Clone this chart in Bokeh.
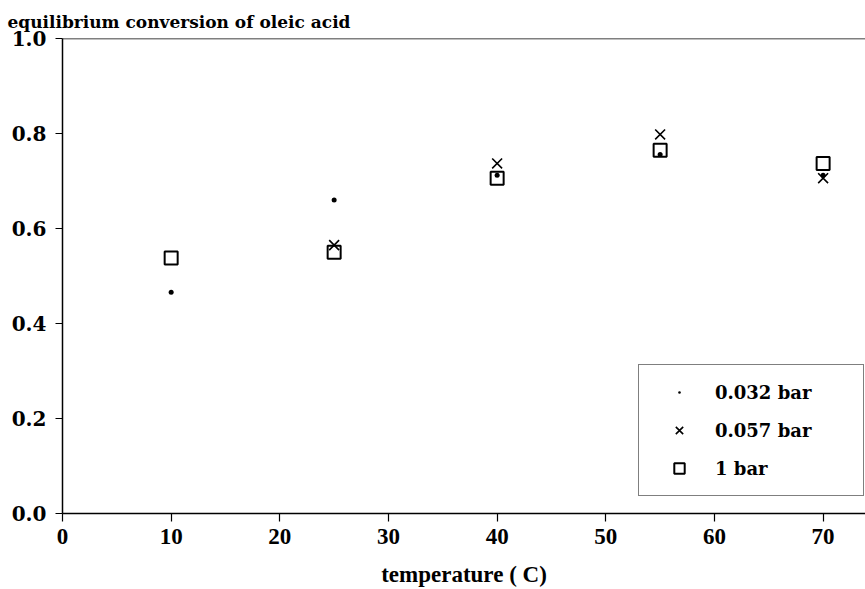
from bokeh.plotting import figure
from bokeh.models import Range1d, Span, Title, Legend, LegendItem, FixedTicker, CustomJSTickFormatter
from bokeh.embed import file_html
from bokeh.resources import INLINE

# data
temps = [10, 25, 40, 55, 70]
conv_0032 = [0.466, 0.660, 0.712, 0.756, 0.712]
temps_0057 = [25, 40, 55, 70]
conv_0057 = [0.565, 0.737, 0.798, 0.706]
conv_1 = [0.538, 0.550, 0.706, 0.765, 0.737]
x_ticks = [0, 10, 20, 30, 40, 50, 60, 70]
y_ticks = [0.0, 0.2, 0.4, 0.6, 0.8, 1.0]
title_text = "equilibrium conversion of oleic acid"
x_label = "temperature ( C)"
labels = ["0.032 bar", "0.057 bar", "1 bar"]

SERIF = "DejaVu Serif"
TIMES = "Liberation Serif"

p = figure(width=865, height=589, output_backend="svg", toolbar_location=None,
           x_range=Range1d(0, 73.9), y_range=Range1d(0, 1.0),
           min_border_left=62, min_border_right=0, min_border_top=38, min_border_bottom=75)
p.outline_line_color = None
p.xgrid.visible = False
p.ygrid.visible = False
p.background_fill_color = "white"
p.border_fill_color = "white"

# axes
p.xaxis.ticker = FixedTicker(ticks=x_ticks)
p.yaxis.ticker = FixedTicker(ticks=y_ticks)
p.xaxis.minor_tick_line_color = None
p.yaxis.minor_tick_line_color = None
for ax in (p.xaxis[0], p.yaxis[0]):
    ax.axis_line_color = "black"
    ax.axis_line_width = 1.5
    ax.major_tick_line_color = "black"
    ax.major_tick_line_width = 1.2
    ax.major_tick_in = 0
p.xaxis.major_tick_out = 8
p.yaxis.major_tick_out = 7
p.yaxis.major_label_standoff = 9
p.xaxis.major_label_standoff = 7
p.yaxis.formatter = CustomJSTickFormatter(code="return tick.toFixed(1);")
p.yaxis.major_label_text_font = SERIF
p.yaxis.major_label_text_font_style = "bold"
p.yaxis.major_label_text_font_size = "20px"
p.yaxis.major_label_text_color = "black"
p.xaxis.major_label_text_font = TIMES
p.xaxis.major_label_text_font_style = "bold"
p.xaxis.major_label_text_font_size = "23px"
p.xaxis.major_label_text_color = "black"
p.xaxis.axis_label = x_label
p.xaxis.axis_label_text_font = TIMES
p.xaxis.axis_label_text_font_style = "bold"
p.xaxis.axis_label_text_font_size = "23px"
p.xaxis.axis_label_text_color = "black"
p.xaxis.axis_label_standoff = 15

# top frame line
p.add_layout(Span(location=1.0, dimension="width", line_color="black", line_width=1.5))

# title
p.add_layout(Title(text=title_text, align="left", offset=-55, standoff=14,
                   text_font=SERIF, text_font_style="bold", text_font_size="17px",
                   text_color="black"), "above")

r1 = p.scatter(temps, conv_0032, marker="dot", size=20, line_color="black", fill_color="black")
r2 = p.scatter(temps_0057, conv_0057, marker="x", size=14, line_color="black", line_width=1.6)
r3 = p.scatter(temps, conv_1, marker="square", size=13, fill_color=None, line_color="black", line_width=2)

legend = Legend(items=[LegendItem(label=labels[0], renderers=[r1]),
                       LegendItem(label=labels[1], renderers=[r2]),
                       LegendItem(label=labels[2], renderers=[r3])],
                location=(576, 17), padding=14, spacing=12,
                glyph_width=52, glyph_height=26, label_height=26,
                label_standoff=10, label_width=134, margin=0,
                border_line_color="black", border_line_width=1.2,
                background_fill_color="white", background_fill_alpha=1,
                label_text_font=SERIF, label_text_font_style="bold",
                label_text_font_size="18px", label_text_color="black")
p.add_layout(legend)

open("out.html", "w").write(file_html(p, INLINE))
